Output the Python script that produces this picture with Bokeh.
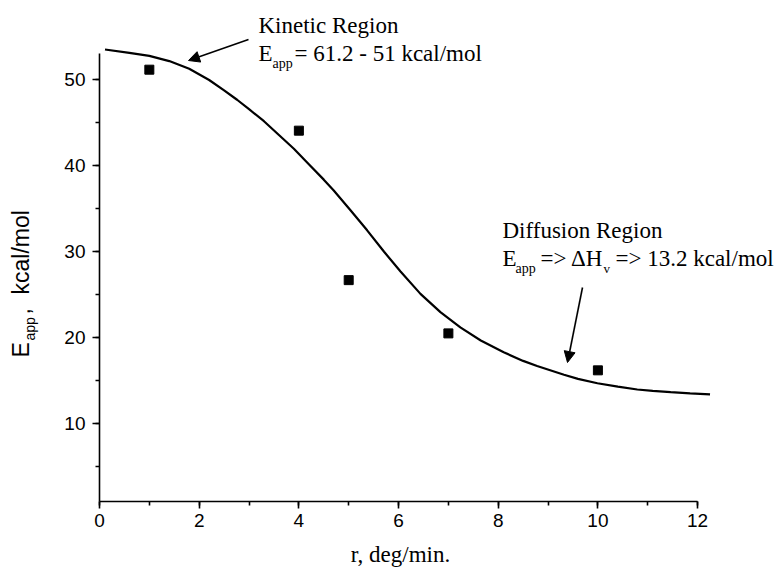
import math
from bokeh.plotting import figure
from bokeh.models import Range1d, SingleIntervalTicker, Label, Arrow, NormalHead, LinearAxis
from bokeh.embed import file_html
from bokeh.resources import INLINE

# ---- data ----
r_fit = [0.11, 0.6, 1.0, 1.4, 1.8, 2.2, 2.5, 2.76, 3.0, 3.3, 3.6, 3.9, 4.2, 4.5, 4.7,
         5.04, 5.37, 5.71, 6.04, 6.44, 6.84, 7.24, 7.65, 8.11, 8.5, 8.78, 9.32, 9.6,
         9.99, 10.4, 10.79, 11.1, 11.46, 11.85, 12.25]
e_fit = [53.55, 53.15, 52.8, 52.2, 51.3, 50.0, 48.8, 47.7, 46.6, 45.2, 43.6, 42.0, 40.2,
         38.4, 37.14, 34.8, 32.5, 30.0, 27.7, 25.1, 22.97, 21.2, 19.67, 18.3, 17.3, 16.7,
         15.68, 15.2, 14.7, 14.3, 13.97, 13.8, 13.66, 13.52, 13.39]
r_meas = [1, 4, 5, 7, 10]
e_meas = [51.2, 44.1, 26.7, 20.5, 16.2]
x_tick_step = 2
y_tick_step = 10
x_axis_span = (0, 12)
y_axis_span = (0.93, 53.1)

# ---- layout: frame fills the canvas, axes drawn at fixed locations ----
W, H = 774, 568
PX0, PY0 = 99, 501          # pixel position of (x=0, y=y_axis_span[0])
XS, YS = 49.84, 8.59        # pixels per data unit

def dx(px):
    return (px - PX0) / XS

def dy(py):
    return y_axis_span[0] + (PY0 - py) / YS

p = figure(width=W, height=H,
           x_range=Range1d(dx(0), dx(W)), y_range=Range1d(dy(H), dy(0)),
           output_backend="svg", toolbar_location=None,
           x_axis_location=None, y_axis_location=None,
           min_border=0, min_border_left=0, min_border_right=0,
           min_border_top=0, min_border_bottom=0)
p.outline_line_color = None
p.grid.visible = False
p.background_fill_color = "white"
p.border_fill_color = "white"

SANS = "Liberation Sans"
SERIF = "Liberation Serif"

xaxis = LinearAxis(fixed_location=y_axis_span[0], bounds=x_axis_span,
                   ticker=SingleIntervalTicker(interval=x_tick_step, num_minor_ticks=2))
yaxis = LinearAxis(fixed_location=x_axis_span[0], bounds=y_axis_span,
                   ticker=SingleIntervalTicker(interval=y_tick_step, num_minor_ticks=2))
for ax in (xaxis, yaxis):
    ax.axis_line_color = "black"
    ax.axis_line_width = 1.6
    ax.major_tick_line_color = "black"
    ax.major_tick_line_width = 1.6
    ax.minor_tick_line_color = "black"
    ax.minor_tick_line_width = 1.6
    ax.major_tick_in = 0
    ax.major_tick_out = 7
    ax.minor_tick_in = 0
    ax.minor_tick_out = 4
    ax.major_label_text_font = SANS
    ax.major_label_text_font_size = "19px"
    ax.major_label_text_color = "black"
xaxis.major_label_standoff = 5
yaxis.major_label_standoff = 7
p.add_layout(xaxis, "below")
p.add_layout(yaxis, "left")

p.line(r_fit, e_fit, line_color="black", line_width=2.2)
p.scatter(r_meas, e_meas, marker="square", size=9, fill_color="black", line_color="black")

BASE_SHIFT = 0.32  # em; compensates where the label baseline is placed

def lab(px, py, text, font, size, align="left", rotated=False):
    off = BASE_SHIFT * size
    if rotated:
        px = px - off
    else:
        py = py - off
    p.add_layout(Label(x=dx(px), y=dy(py), text=text, text_font=font,
                       text_font_size=f"{size}px", text_align=align,
                       text_baseline="alphabetic", text_color="black",
                       angle=(math.pi / 2 if rotated else 0.0), angle_units="rad"))

# y-axis title (rotated)
lab(28, 357, "E", SANS, 23, rotated=True)
lab(34, 340, "app", SANS, 14, rotated=True)
lab(28, 314, ",", SANS, 23, rotated=True)
lab(28, 294, "kcal/mol", SANS, 23, rotated=True)

# x-axis title
lab(400, 561, "r, deg/min.", SERIF, 23, align="center")

# Kinetic region annotation
lab(258, 32, "Kinetic Region", SERIF, 23)
lab(258, 60, "E", SERIF, 23)
lab(272, 67, "app", SERIF, 14)
lab(294, 60, "= 61.2 - 51 kcal/mol", SERIF, 23)

# Diffusion region annotation
lab(502, 237, "Diffusion Region", SERIF, 23)
lab(502, 265, "E", SERIF, 23)
lab(515, 272, "app", SERIF, 14)
lab(540, 265, "=> \u0394H", SERIF, 23)
lab(603, 272, "v", SERIF, 13)
lab(615, 265, "=> 13.2 kcal/mol", SERIF, 23)

# arrows
for (x_s, y_s, x_e, y_e) in ((248, 39, 188, 60), (582, 287, 567, 362)):
    p.add_layout(Arrow(x_start=dx(x_s), y_start=dy(y_s), x_end=dx(x_e), y_end=dy(y_e),
                       line_color="black", line_width=1.6,
                       end=NormalHead(size=11, fill_color="black", line_color="black", line_width=1)))

open("out.html", "w").write(file_html(p, INLINE))
